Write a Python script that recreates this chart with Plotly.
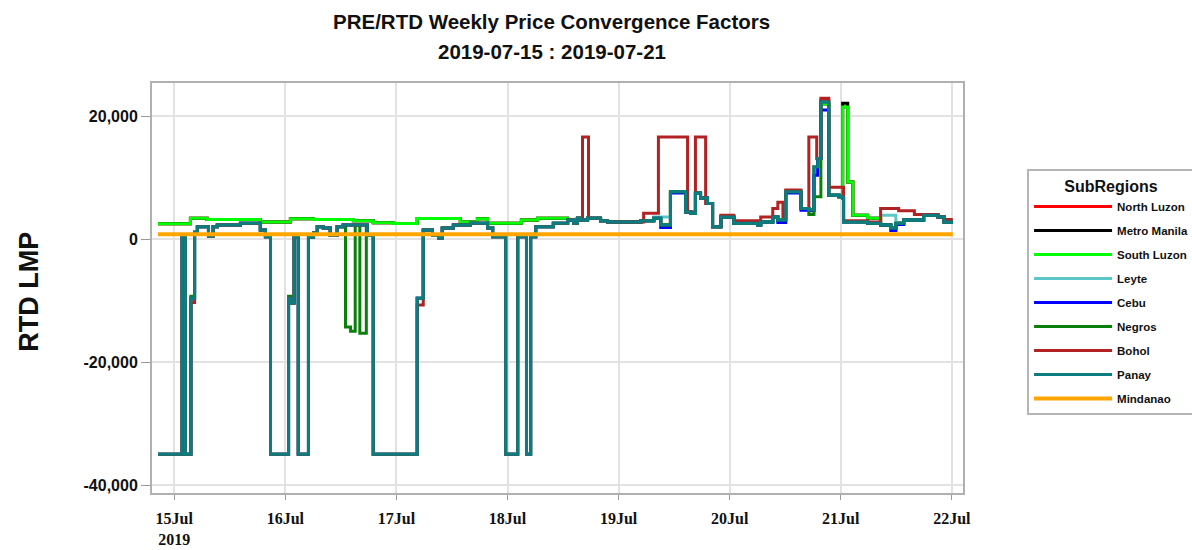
import pandas as pd
import plotly.graph_objects as go

# ---- data: hours from 2019-07-15 00:00, step-change points ----
panay_h = [-3.5, 1.7, 2.4, 3.6, 4.4, 5.0, 7.4, 8.4, 9.3, 14.3, 18.6, 19.7, 20.8, 24.7, 25.2, 25.9, 26.8,
           29.0, 30.1, 30.9, 32.2, 33.7, 35.2, 36.5, 41.7, 43.0, 52.5, 53.8, 55.8, 57.1, 57.9, 60.3, 64.0,
           67.7, 68.8, 71.6, 74.2, 76.1, 77.0, 78.1, 81.9, 85.0, 86.3, 87.1, 87.8, 89.3, 92.1, 93.6, 100.8,
           103.6, 105.1, 107.2, 110.5, 111.6, 112.6, 113.7, 115.2, 116.3, 118.1, 120.9, 126.1, 126.7, 129.3,
           130.4, 132.1, 135.4, 137.1, 138.2, 139.0, 139.7, 141.4, 143.6, 144.4, 144.6, 149.8, 152.6, 154.8,
           155.9, 157.6, 161.9, 165.0, 166.3, 168.2]
panay_v = [-35000, 500, -35000, -9600, 1100, 2000, 500, 2000, 2300, 2600, 1500, 400, -35000, -9600, -10400, 300,
           -35000, 300, 1000, 2000, 1800, 650, 2000, 2300, 650, -35000, -9600, 1500, 650, 200, 1800, 2300, 2600,
           1800, 400, -35000, 400, -35000, 400, 2000, 2600, 3100, 2600, 3400, 3100, 3400, 3000, 2800, 3000,
           3400, 2300, 7700, 4400, 4200, 7500, 6700, 5800, 2000, 3600, 2600, 2300, 2800, 3600,
           3100, 7700, 5000, 4800, 11750, 13100, 22300, 7150, 6900, 6700, 2800, 2600, 2300, 1800,
           2600, 3100, 3900, 3600, 2800, 2800]

bohol_h = [-3.5, 1.7, 2.4, 3.6, 4.4, 5.0, 7.4, 8.4, 9.3, 14.3, 18.6, 19.7, 20.8, 24.7, 25.2, 25.9, 26.8,
           29.0, 30.1, 30.9, 32.2, 33.7, 35.2, 36.5, 41.7, 43.0, 52.5, 53.8, 55.8, 57.1, 57.9, 60.3, 64.0,
           67.7, 68.8, 71.6, 74.2, 76.1, 77.0, 78.1, 81.9, 85.0, 86.3, 87.1, 87.8, 88.2, 89.5, 92.1, 93.6,
           101.4, 104.6, 110.9, 112.6, 114.8, 116.3, 118.1, 120.9, 126.1, 126.7, 129.3, 130.4, 131.5,
           132.1, 135.4, 137.1, 138.8, 139.7, 141.4, 144.6, 149.8, 152.6, 156.5, 159.9, 165.0, 166.3, 168.2]
bohol_v = [-35000, 500, -35000, -10300, 1100, 2000, 500, 2000, 2300, 2600, 1500, 400, -35000, -9600, -10400, 300,
           -35000, 300, 1000, 2000, 1800, 650, 2000, 2300, 650, -35000, -10700, 1500, 650, 200, 1800, 2300, 2600,
           1800, 400, -35000, 400, -35000, 400, 2000, 2600, 3100, 2600, 3400, 3100, 16600, 3400, 3000, 2800,
           4200, 16600, 4400, 16600, 5800, 2000, 3900, 3000, 2700, 3600, 5000, 6000, 3700,
           8000, 5000, 16600, 13100, 22900, 8450, 3000, 2800, 5000, 4600, 4000, 3600, 3200, 3200]

negros_h = [-3.5, 1.7, 2.4, 3.6, 4.4, 5.0, 7.4, 8.4, 9.3, 14.3, 18.6, 19.7, 20.8, 24.7, 25.2, 25.9, 26.8,
            29.0, 30.1, 30.9, 32.2, 33.7, 35.2, 36.5, 37.0, 38.1, 39.1, 40.1, 41.5, 41.7, 43.0, 52.5, 53.8,
            55.8, 57.1, 57.9, 60.3, 64.0, 67.7, 68.8, 71.6, 74.2, 76.1, 77.0, 78.1, 81.9, 85.0, 86.3, 87.1,
            87.8, 89.3, 92.1, 93.6, 100.8, 103.6, 105.1, 107.2, 110.5, 111.6, 112.6, 113.7, 115.2, 116.3,
            118.1, 120.9, 126.1, 126.7, 129.3, 130.4, 132.1, 135.4, 137.1, 138.2, 139.7, 141.4, 143.6,
            144.4, 144.6, 149.8, 152.6, 154.8, 155.9, 157.6, 161.9, 165.0, 166.3, 168.2]
negros_v = [-35000, 500, -35000, -9300, 1100, 2000, 500, 2000, 2300, 2600, 1500, 400, -35000, -9300, -10400, 300,
            -35000, 300, 1000, 2000, 1800, 650, 2000, 2300, -14300, -15000, 2300, -15300, 2300, 650, -35000, -9600, 1500,
            650, 200, 1800, 2300, 2600, 1800, 400, -35000, 400, -35000, 400, 2000, 2600, 3100, 2600, 3400,
            3100, 3400, 3000, 2800, 3000, 3400, 2300, 7700, 4400, 4200, 7500, 6700, 5800, 2000,
            3600, 2600, 2300, 2800, 3600, 3100, 7700, 5000, 4000, 6900, 22300, 7150, 6900,
            6700, 2800, 2600, 2300, 1800, 2600, 3100, 3900, 3600, 2800, 2800]

cebu_h = [-3.5, 1.7, 2.4, 3.6, 4.4, 5.0, 7.4, 8.4, 9.3, 14.3, 18.6, 19.7, 20.8, 24.7, 25.2, 25.9, 26.8,
          29.0, 30.1, 30.9, 32.2, 33.7, 35.2, 36.5, 41.7, 43.0, 52.5, 53.8, 55.8, 57.1, 57.9, 60.3, 64.0,
          67.7, 68.8, 71.6, 74.2, 76.1, 77.0, 78.1, 81.9, 85.0, 86.3, 87.1, 87.8, 89.3, 92.1, 93.6, 100.8,
          103.6, 105.1, 107.2, 110.5, 111.6, 112.6, 113.7, 115.2, 116.3, 118.1, 120.9, 126.1, 126.7, 129.3,
          130.4, 132.1, 135.4, 137.1, 138.2, 139.0, 139.7, 141.4, 143.6, 144.4, 144.6, 149.8, 152.6, 154.8,
          155.9, 157.6, 161.9, 165.0, 166.3, 168.2]
cebu_v = [-35000, 500, -35000, -9600, 1100, 2000, 500, 2000, 2300, 2600, 1500, 400, -35000, -9600, -10400, 300,
          -35000, 300, 1000, 2000, 1800, 650, 2000, 2300, 650, -35000, -9600, 1500, 650, 200, 1800, 2300, 2600,
          1800, 400, -35000, 400, -35000, 400, 2000, 2600, 3100, 2600, 3400, 3100, 3400, 3000, 2800, 3000,
          3400, 1900, 7500, 4400, 4200, 7500, 6700, 5800, 2000, 3600, 2600, 2300, 2800, 3600,
          2700, 7500, 4700, 4600, 10400, 13100, 21000, 7150, 6900, 6700, 2800, 2600, 2300, 1400,
          2400, 3100, 3900, 3600, 2800, 2800]

leyte_h = [-3.5, 1.7, 2.4, 3.6, 4.4, 5.0, 7.4, 8.4, 9.3, 14.3, 18.6, 19.7, 20.8, 24.7, 25.2, 25.9, 26.8,
           29.0, 30.1, 30.9, 32.2, 33.7, 35.2, 36.5, 41.7, 43.0, 52.5, 53.8, 55.8, 57.1, 57.9, 60.3, 64.0,
           67.7, 68.8, 71.6, 74.2, 76.1, 77.0, 78.1, 81.9, 85.0, 86.3, 87.1, 87.8, 89.3, 92.1, 93.6, 100.8,
           103.6, 107.2, 110.5, 111.6, 112.6, 113.7, 115.2, 116.3, 118.1, 120.9, 126.1, 126.7, 129.3,
           130.4, 132.1, 135.4, 137.1, 138.2, 139.0, 139.7, 141.4, 143.6, 144.4, 144.6, 149.8, 152.6,
           155.9, 157.6, 161.9, 165.0, 166.3, 168.2]
leyte_v = [-35000, 500, -35000, -9600, 1100, 2000, 500, 2000, 2300, 2600, 1500, 400, -35000, -9600, -10400, 300,
           -35000, 300, 1000, 2000, 1800, 650, 2000, 2300, 650, -35000, -9600, 1500, 650, 200, 1800, 2300, 2600,
           1800, 400, -35000, 400, -35000, 400, 2000, 2600, 3100, 2600, 3400, 3100, 3400, 3000, 2800, 3000,
           3600, 7700, 4400, 4200, 7500, 6700, 5800, 2000, 3600, 2600, 2300, 2800, 3600,
           3100, 7700, 5000, 4800, 11750, 13100, 22300, 7150, 6900, 6700, 2800, 2600, 3900,
           2600, 3100, 3900, 3600, 2800, 2800]

south_luzon_h = [-3.5, 3.5, 7.1, 18.6, 25.1, 30.1, 38.7, 43.0, 47.4, 52.5, 61.8, 65.5, 67.7, 75.0, 78.5, 85.0,
                 86.3, 87.1, 87.8, 89.3, 92.1, 93.6, 100.8, 103.6, 105.1, 107.2, 110.5, 111.6, 112.6, 113.7,
                 115.2, 116.3, 118.1, 120.9, 126.1, 126.7, 129.3, 130.4, 132.1, 135.4, 137.1, 138.2, 139.0,
                 139.7, 141.4, 143.6, 144.4, 145.5, 146.6, 149.8, 152.6, 154.8, 155.9, 157.6, 161.9, 165.0,
                 166.3, 168.2]
south_luzon_v = [2500, 3400, 3200, 2800, 3300, 3200, 3000, 2650, 2550, 3350, 2800, 3300, 2600, 3100, 3400, 3100,
                 2600, 3400, 3100, 3400, 3000, 2800, 3000, 3400, 2300, 7700, 4400, 4200, 7500, 6700,
                 5800, 2000, 3600, 2600, 2300, 2800, 3600, 3100, 7700, 5000, 4800, 11750, 13100,
                 22000, 7150, 6900, 21500, 9300, 3900, 3400, 2300, 1800, 2600, 3100, 3900, 3600,
                 2800, 2800]

metro_manila_h = [-3.5, 3.5, 7.1, 18.6, 25.1, 30.1, 38.7, 43.0, 47.4, 52.5, 61.8, 65.5, 67.7, 75.0, 78.5, 85.0,
                  86.3, 87.1, 87.8, 89.3, 92.1, 93.6, 100.8, 103.6, 105.1, 107.2, 110.5, 111.6, 112.6, 113.7,
                  115.2, 116.3, 118.1, 120.9, 126.1, 126.7, 129.3, 130.4, 132.1, 135.4, 137.1, 138.2, 139.0,
                  139.7, 141.4, 143.6, 144.4, 145.5, 146.6, 149.8, 152.6, 154.8, 155.9, 157.6, 161.9, 165.0,
                  166.3, 168.2]
metro_manila_v = [2500, 3400, 3200, 2800, 3300, 3200, 3000, 2650, 2550, 3350, 2800, 3300, 2600, 3100, 3400, 3100,
                  2600, 3400, 3100, 3400, 3000, 2800, 3000, 3400, 2300, 7700, 4400, 4200, 7500, 6700,
                  5800, 2000, 3600, 2600, 2300, 2800, 3600, 3100, 7700, 5000, 4800, 11750, 13100,
                  22000, 7150, 6900, 22100, 9300, 3900, 3400, 2300, 1800, 2600, 3100, 3900, 3600,
                  2800, 2800]

north_luzon_h = [-3.5, 3.5, 7.1, 18.6, 25.1, 30.1, 38.7, 43.0, 47.4, 52.5, 61.8, 65.5, 67.7, 75.0, 78.5, 85.0,
                 86.3, 87.1, 87.8, 89.3, 92.1, 93.6, 100.8, 103.6, 105.1, 107.2, 110.5, 111.6, 112.6, 113.7,
                 115.2, 116.3, 118.1, 120.9, 126.1, 126.7, 129.3, 130.4, 132.1, 135.4, 137.1, 138.2, 139.0,
                 139.7, 141.4, 143.6, 144.4, 145.5, 146.6, 149.8, 152.6, 154.8, 155.9, 157.6, 161.9, 165.0,
                 166.3, 168.2]
north_luzon_v = [2500, 3400, 3200, 2800, 3300, 3200, 3000, 2650, 2550, 3350, 2800, 3300, 2600, 3100, 3400, 3100,
                 2600, 3400, 3100, 3400, 3000, 2800, 3000, 3400, 2300, 7700, 4400, 4200, 7500, 6700,
                 5800, 2000, 3600, 2600, 2300, 2800, 3600, 3100, 7700, 5000, 4800, 11750, 13100,
                 22600, 7150, 6900, 21500, 9300, 3900, 3400, 2300, 1800, 2600, 3100, 3900, 3600,
                 2800, 2800]

mindanao_h = [-3.5, 168.2]
mindanao_v = [800, 800]

regions = ["North Luzon", "Metro Manila", "South Luzon", "Leyte", "Cebu", "Negros", "Bohol", "Panay", "Mindanao"]
colors = ["#ff0000", "#000000", "#00ff00", "#5cc7c7", "#0000ff", "#0a800a", "#b22222", "#0b7d80", "#ffa500"]
series_h = [north_luzon_h, metro_manila_h, south_luzon_h, leyte_h, cebu_h, negros_h, bohol_h, panay_h, mindanao_h]
series_v = [north_luzon_v, metro_manila_v, south_luzon_v, leyte_v, cebu_v, negros_v, bohol_v, panay_v, mindanao_v]

day_ticks = ["2019-07-15", "2019-07-16", "2019-07-17", "2019-07-18", "2019-07-19", "2019-07-20", "2019-07-21", "2019-07-22"]
day_labels = ["15Jul<br>2019", "16Jul", "17Jul", "18Jul", "19Jul", "20Jul", "21Jul", "22Jul"]
y_ticks = [-40000, -20000, 0, 20000]
y_labels = ["-40,000", "-20,000", "0", "20,000"]

base = pd.Timestamp("2019-07-15")

fig = go.Figure()
for name, col, hs, vs in zip(regions, colors, series_h, series_v):
    xs = base + pd.to_timedelta(hs, unit="h")
    fig.add_trace(go.Scatter(
        x=xs, y=vs, mode="lines", name=name, legendgroup=name,
        line=dict(color=col, width=4 if name == "Mindanao" else 3, shape="hv"),
    ))

sans = "Liberation Sans, Arial, sans-serif"

fig.update_layout(
    width=1192, height=550,
    margin=dict(l=152, r=229, t=83, b=57, autoexpand=False),
    paper_bgcolor="white", plot_bgcolor="white",
    showlegend=True,
    legend=dict(
        x=1.079, y=0.790, xanchor="left", yanchor="top",
        bordercolor="#b5b5b5", borderwidth=2, bgcolor="white",
        font=dict(family=sans, size=11.5, color="#111", weight="bold"),
        title=dict(text="SubRegions", side="top center",
                   font=dict(family=sans, size=16, color="#111", weight="bold")),
        tracegroupgap=5, itemwidth=78,
    ),
    annotations=[
        dict(text="PRE/RTD Weekly Price Convergence Factors", xref="paper", yref="paper",
             x=0.493, y=1.149, xanchor="center", yanchor="middle", showarrow=False,
             font=dict(family=sans, size=20.5, color="#111", weight="bold")),
        dict(text="2019-07-15 : 2019-07-21", xref="paper", yref="paper",
             x=0.493, y=1.076, xanchor="center", yanchor="middle", showarrow=False,
             font=dict(family=sans, size=20.5, color="#111", weight="bold")),
        dict(text="RTD LMP", xref="paper", yref="paper", textangle=-90,
             x=-0.151, y=0.49, xanchor="center", yanchor="middle", showarrow=False,
             font=dict(family=sans, size=27, color="#111", weight="bold")),
    ],
)

fig.update_xaxes(
    range=[base - pd.Timedelta(hours=4.8), base + pd.Timedelta(hours=170.4)],
    tickvals=[pd.Timestamp(d) for d in day_ticks], ticktext=day_labels,
    tickfont=dict(family="Liberation Serif, Times New Roman, serif", size=16, color="#111", weight="bold"),
    ticks="outside", ticklen=5, tickcolor="#999", ticklabelstandoff=5,
    showgrid=True, gridcolor="#e2e2e2", gridwidth=1.5,
    showline=True, mirror=True, linecolor="#b0b0b0", linewidth=2,
    zeroline=False, automargin=False,
)
fig.update_yaxes(
    range=[-41300, 25400],
    tickvals=y_ticks, ticktext=y_labels,
    tickfont=dict(family=sans, size=16, color="#111", weight="bold"),
    ticks="outside", ticklen=9, tickcolor="#999",
    showgrid=True, gridcolor="#e2e2e2", gridwidth=1.5,
    showline=True, mirror=True, linecolor="#b0b0b0", linewidth=2,
    zeroline=False, automargin=False,
)

fig.write_html("out.html", config={"displayModeBar": False},
               post_script="document.body.style.margin='0';document.body.style.overflow='hidden';")
